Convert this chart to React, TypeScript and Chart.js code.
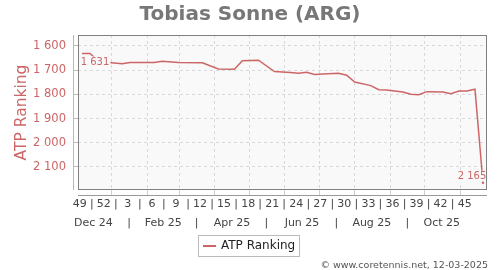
import { useEffect, useRef } from 'react';
import { Chart, registerables } from 'chart.js';

Chart.register(...registerables);

const PLAYER = 'Tobias Sonne (ARG)';
const SERIES_LABEL = 'ATP Ranking';
const FOOTER = '© www.coretennis.net, 12-03-2025';

// weekly ranking points: week offset from the first ranking date, and ranking
const FIRST_RANKING_DATE = '2024-12-06';
const rankingWeeks = [0, 1, 2, 3, 5, 6, 9, 10, 12, 15, 17, 19, 20, 22, 24, 26, 27, 28, 29, 30, 32, 33, 34, 36, 37, 38, 40, 41, 42, 43, 45, 46, 47, 48, 49, 50];
const rankings = [1631, 1631, 1662, 1668, 1674, 1669, 1669, 1663, 1669, 1670, 1695, 1696, 1661, 1659, 1706, 1710, 1713, 1709, 1718, 1716, 1713, 1721, 1749, 1764, 1781, 1782, 1790, 1800, 1802, 1789, 1790, 1797, 1786, 1786, 1779, 2165];

// axis ticks
const yTicks = [1600, 1700, 1800, 1900, 2000, 2100];
const FIRST_WEEK_LABEL_DATE = '2024-12-04';
const weekTickLabels = ['49', '52', '3', '6', '9', '12', '15', '18', '21', '24', '27', '30', '33', '36', '39', '42', '45'];
const monthMidDates = ['2024-12-16', '2025-01-16', '2025-02-15', '2025-03-16', '2025-04-16', '2025-05-16', '2025-06-16', '2025-07-16', '2025-08-16', '2025-09-16', '2025-10-16'];
const monthTickLabels = ['Dec 24', '|', 'Feb 25', '|', 'Apr 25', '|', 'Jun 25', '|', 'Aug 25', '|', 'Oct 25'];
const monthStartDates = ['2025-01-01', '2025-02-01', '2025-03-01', '2025-04-01', '2025-05-01', '2025-06-01', '2025-07-01', '2025-08-01', '2025-09-01', '2025-10-01', '2025-11-01'];
const X_MIN_DAY = -29.5;
const X_MAX_DAY = 327.5;
const Y_MIN = 1555;
const Y_MAX = 2195;

const RED = '#cc6666';
const FONT = '"DejaVu Sans", Verdana, sans-serif';
const PLOT_BG = '#f9f9f9';

const ORIGIN = Date.parse('2025-01-01T00:00:00Z');
const dayOf = (d: string) => (Date.parse(d + 'T00:00:00Z') - ORIGIN) / 86400000;
const fmt = (n: number) => String(Math.round(n)).replace(/\B(?=(\d{3})+(?!\d))/g, ' ');

const firstDay = dayOf(FIRST_RANKING_DATE);
const points = rankingWeeks.map((w, i) => ({ x: firstDay + 7 * w, y: rankings[i] }));

const weekPos: number[] = [];
const weekTxt: string[] = [];
weekTickLabels.forEach((l, i) => {
  const p = dayOf(FIRST_WEEK_LABEL_DATE) + 21 * i;
  weekPos.push(p);
  weekTxt.push(l);
  if (i < weekTickLabels.length - 1) {
    weekPos.push(p + 10.5);
    weekTxt.push('|');
  }
});
const monthPos = monthMidDates.map(dayOf);
const gridPos = monthStartDates.map(dayOf);

const decor = {
  id: 'decor',
  beforeDraw(chart: any) {
    const { ctx, chartArea: a } = chart;
    ctx.save();
    ctx.fillStyle = '#ffffff';
    ctx.fillRect(0, 0, chart.width, chart.height);
    ctx.fillStyle = PLOT_BG;
    ctx.fillRect(a.left, a.top, a.right - a.left, a.bottom - a.top);
    ctx.restore();
  },
  afterDatasetsDraw(chart: any) {
    const { ctx, chartArea: a } = chart;
    const meta = chart.getDatasetMeta(0);
    const els = meta.data;
    const labelAt = (el: any, val: number, dx: number, dy: number) => {
      ctx.save();
      ctx.font = `10px ${FONT}`;
      const t = fmt(val);
      const w = ctx.measureText(t).width;
      const cx = el.x + dx;
      const cy = el.y + dy;
      ctx.fillStyle = PLOT_BG;
      ctx.fillRect(cx - w / 2 - 1, cy - 6, w + 2, 12);
      ctx.fillStyle = RED;
      ctx.textAlign = 'center';
      ctx.textBaseline = 'middle';
      ctx.fillText(t, cx, cy);
      ctx.restore();
    };
    const first = els[0];
    const last = els[els.length - 1];
    labelAt(first, rankings[0], 13, 9);
    labelAt(last, rankings[rankings.length - 1], -11, -6);
    ctx.save();
    ctx.fillStyle = RED;
    ctx.beginPath();
    ctx.arc(last.x, last.y, 1.2, 0, Math.PI * 2);
    ctx.fill();
    // plot border
    ctx.strokeStyle = '#808080';
    ctx.lineWidth = 1;
    ctx.strokeRect(a.left + 0.5, a.top + 0.5, a.right - a.left - 1, a.bottom - a.top - 1);
    ctx.restore();
  },
  afterDraw(chart: any) {
    const { ctx, chartArea: a } = chart;
    ctx.save();
    // y axis line
    ctx.strokeStyle = '#e2a6a6';
    ctx.lineWidth = 1;
    ctx.beginPath();
    ctx.moveTo(73.5, a.top);
    ctx.lineTo(73.5, a.bottom);
    ctx.stroke();
    // x axis line
    ctx.strokeStyle = '#999999';
    ctx.beginPath();
    ctx.moveTo(a.left, a.bottom + 5.5);
    ctx.lineTo(a.right, a.bottom + 5.5);
    ctx.stroke();
    // title
    ctx.fillStyle = '#777777';
    ctx.font = `bold 20px ${FONT}`;
    ctx.textAlign = 'center';
    ctx.textBaseline = 'alphabetic';
    ctx.fillText(PLAYER, 250, 20);
    // y title
    ctx.save();
    ctx.translate(26, (a.top + a.bottom) / 2);
    ctx.rotate(-Math.PI / 2);
    ctx.fillStyle = RED;
    ctx.font = `15.5px ${FONT}`;
    ctx.textAlign = 'center';
    ctx.textBaseline = 'alphabetic';
    ctx.fillText(SERIES_LABEL, 0, 0);
    ctx.restore();
    // legend
    ctx.fillStyle = '#ffffff';
    ctx.fillRect(198.5, 235.5, 101, 21);
    ctx.strokeStyle = '#bbbbbb';
    ctx.strokeRect(198.5, 235.5, 101, 21);
    ctx.strokeStyle = RED;
    ctx.lineWidth = 2;
    ctx.beginPath();
    ctx.moveTo(203, 246);
    ctx.lineTo(216, 246);
    ctx.stroke();
    ctx.fillStyle = '#222222';
    ctx.font = `12px ${FONT}`;
    ctx.textAlign = 'left';
    ctx.textBaseline = 'middle';
    ctx.fillText(SERIES_LABEL, 221, 246);
    // footer
    ctx.fillStyle = '#555555';
    ctx.font = `9.5px ${FONT}`;
    ctx.textAlign = 'right';
    ctx.textBaseline = 'alphabetic';
    ctx.fillText(FOOTER, 488, 268);
    ctx.restore();
  },
};

export default function App() {
  const ref = useRef<HTMLCanvasElement | null>(null);
  useEffect(() => {
    if (!ref.current) return;
    const chart = new Chart(ref.current, {
      type: 'line',
      data: {
        datasets: [
          {
            label: SERIES_LABEL,
            data: points,
            borderColor: RED,
            backgroundColor: RED,
            borderWidth: 1.5,
            pointRadius: 0,
            tension: 0,
            xAxisID: 'x',
            yAxisID: 'y',
          },
        ],
      },
      options: {
        animation: false,
        responsive: false,
        devicePixelRatio: 1,
        layout: { padding: { left: 0, top: 35, right: 13, bottom: 38 } },
        plugins: { legend: { display: false }, tooltip: { enabled: false }, title: { display: false } },
        scales: {
          x: {
            type: 'linear',
            position: 'bottom',
            weight: 0,
            min: X_MIN_DAY,
            max: X_MAX_DAY,
            afterBuildTicks: (s: any) => {
              s.ticks = gridPos.map((v) => ({ value: v }));
            },
            afterFit: (s: any) => {
              s.height = 5;
            },
            grid: { color: '#d9d9d9', lineWidth: 1, drawTicks: true, tickLength: 5, tickColor: '#d0d0d0' },
            border: { display: false, dash: [3, 3] },
            ticks: { display: false, autoSkip: false },
          },
          xw: {
            type: 'linear',
            position: 'bottom',
            weight: 1,
            min: X_MIN_DAY,
            max: X_MAX_DAY,
            afterBuildTicks: (s: any) => {
              s.ticks = weekPos.map((v) => ({ value: v }));
            },
            afterFit: (s: any) => {
              s.height = 17;
            },
            grid: { display: false, drawTicks: false },
            border: { display: false },
            ticks: {
              autoSkip: false,
              maxRotation: 0,
              minRotation: 0,
              padding: 3,
              color: '#444444',
              font: { family: FONT, size: 11 },
              callback: (_v: any, i: number) => weekTxt[i],
            },
          },
          xm: {
            type: 'linear',
            position: 'bottom',
            weight: 2,
            min: X_MIN_DAY,
            max: X_MAX_DAY,
            afterBuildTicks: (s: any) => {
              s.ticks = monthPos.map((v) => ({ value: v }));
            },
            afterFit: (s: any) => {
              s.height = 20;
            },
            grid: { display: false, drawTicks: false },
            border: { display: false },
            ticks: {
              autoSkip: false,
              maxRotation: 0,
              minRotation: 0,
              padding: 5,
              color: '#444444',
              font: { family: FONT, size: 11 },
              callback: (_v: any, i: number) => monthTickLabels[i],
            },
          },
          y: {
            type: 'linear',
            position: 'left',
            reverse: true,
            min: Y_MIN,
            max: Y_MAX,
            afterBuildTicks: (s: any) => {
              s.ticks = yTicks.map((v) => ({ value: v }));
            },
            afterFit: (s: any) => {
              s.width = 78;
            },
            grid: { color: '#d9d9d9', lineWidth: 1, drawTicks: true, tickLength: 5, tickColor: '#bbbbbb' },
            border: { display: false, dash: [3, 3] },
            ticks: {
              autoSkip: false,
              padding: 7,
              color: RED,
              font: { family: FONT, size: 11.5 },
              callback: (v: any) => fmt(Number(v)),
            },
          },
        },
      },
      plugins: [decor],
    } as any);
    return () => chart.destroy();
  }, []);
  return (
    <div style={{ position: 'absolute', left: 0, top: 0, width: 500, height: 270 }}>
      <canvas ref={ref} width={500} height={270} style={{ display: 'block', width: 500, height: 270 }} />
    </div>
  );
}
